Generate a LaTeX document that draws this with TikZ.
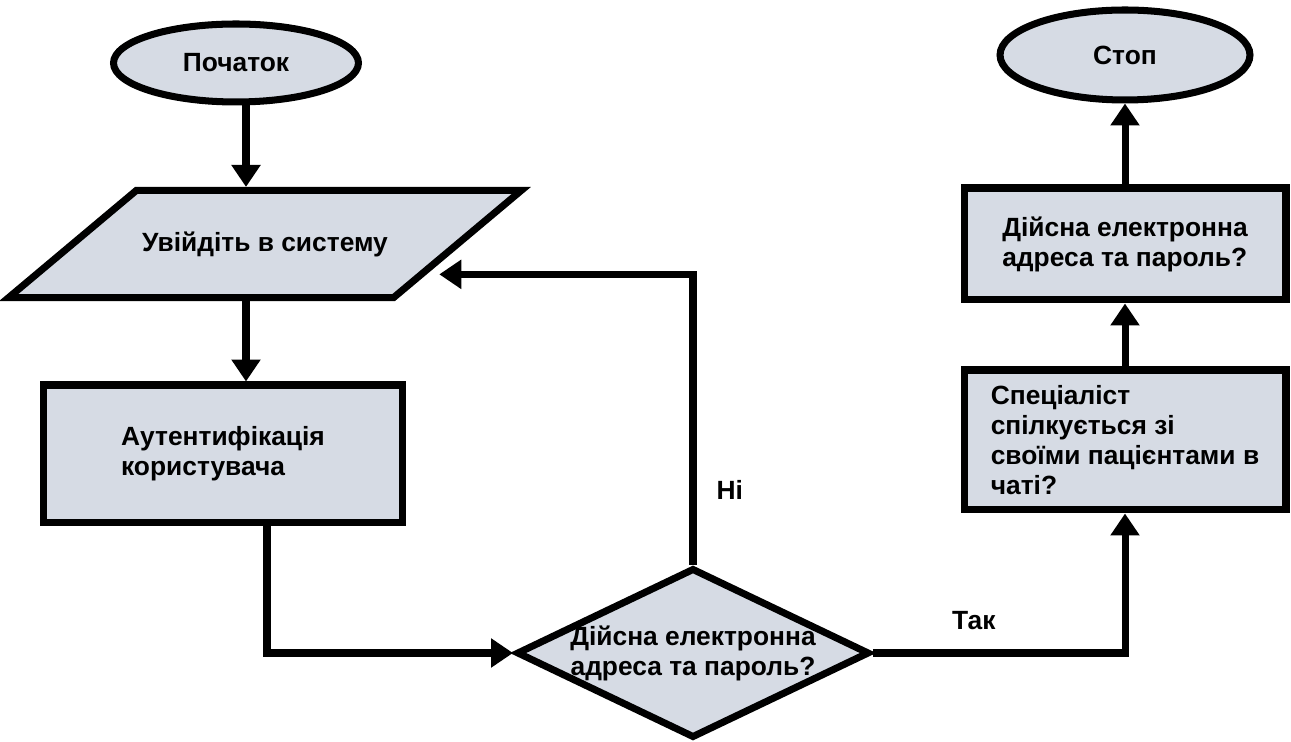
\documentclass[tikz,border=0pt]{standalone}
\usepackage{fontspec}
\setmainfont{Liberation Sans}
\usepackage{tikz}
\usetikzlibrary{shapes.geometric,arrows.meta,calc}

\definecolor{boxfill}{RGB}{214,219,228}

\begin{document}
\begin{tikzpicture}[x=0.02cm, y=-0.02cm,
    every node/.style={font=\bfseries\fontsize{15}{17}\selectfont},
    block/.style={draw, line width=4pt, fill=boxfill},
    arr/.style={line width=4pt, -{Triangle[width=0.56cm,length=0.44cm]}}]
   \useasboundingbox (0,0) rectangle (1291,742);
   \coordinate (col) at (246,0);

   \node[block, ellipse, minimum width=4.9cm, minimum height=1.56cm] (start) at (236,63) {Початок};
   \node[block, trapezium, trapezium left angle=40, trapezium right angle=140,
         trapezium stretches body=true, inner ysep=0.82cm, minimum width=10.04cm] (login) at (265,244) {Увійдіть в систему};
   \node[block, minimum width=7.2cm, minimum height=2.76cm, align=left] (auth) at (223,454) {Аутентифікація\\користувача};
   \node[block, diamond, minimum width=7.06cm, minimum height=3.4cm, inner sep=0pt,
         label={[align=center]center:{Дійсна електронна\\адреса та пароль?}}] (check) at (693,653) {};
   \node[block, minimum width=6.44cm, minimum height=2.8cm, align=left] (spec) at (1125,440)
        {Спеціаліст\\спілкується зі\\своїми пацієнтами в\\чаті?};
   \node[block, minimum width=6.44cm, minimum height=2.24cm, align=left] (valid) at (1125,244) {Дійсна електронна\\адреса та пароль?};
   \node[block, ellipse, minimum width=5cm, minimum height=1.8cm] (stop) at (1125,55) {Стоп};

   \draw[arr] (start.south -| col) -- (login.north -| col);
   \draw[arr] (login.south -| col) -- (auth.north -| col);
   \draw[arr] ([xshift=0.88cm]auth.south) |- (check.west);
   \draw[arr, shorten >=0.25cm] (check.north)
        |- ($(login.bottom right corner)!0.234!(login.top right corner)$)
        node[pos=0.128, right=0.4cm, inner sep=0pt] {Ні};
   \draw[arr] (check.east) -| (spec.south) node[pos=0.2, above=0.4cm, inner sep=0pt] {Так};
   \draw[arr] (spec) -- (valid);
   \draw[arr] (valid) -- (stop);
\end{tikzpicture}
\end{document}
